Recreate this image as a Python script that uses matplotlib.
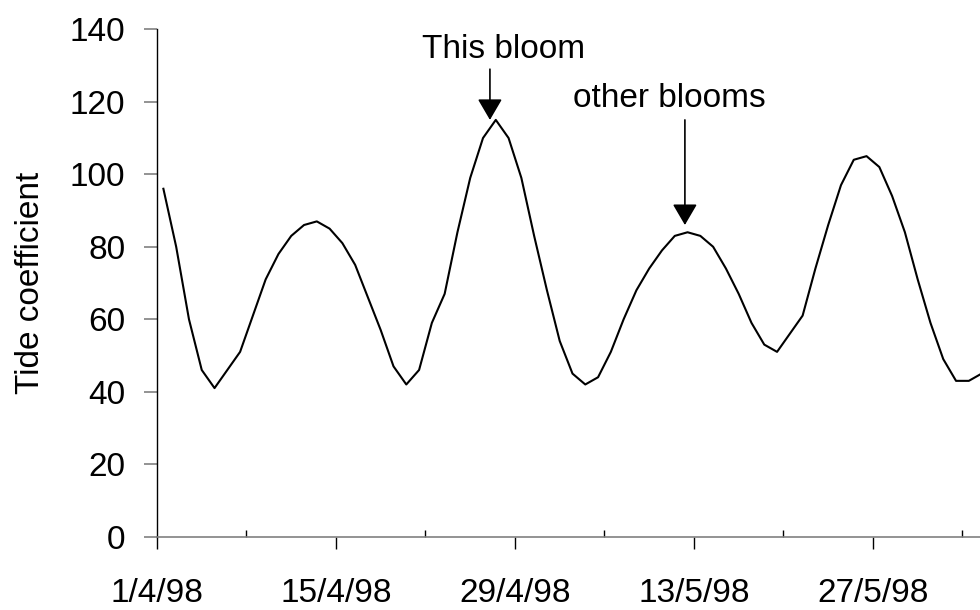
import matplotlib
matplotlib.use("Agg")
import matplotlib.pyplot as plt
import matplotlib.dates as mdates
from matplotlib.ticker import FuncFormatter
import pandas as pd

plt.rcParams['font.family'] = ['Liberation Sans', 'DejaVu Sans']

# daily tide coefficient, from 1/4/98
tide = [96, 80, 60, 46, 41, 46, 51, 61, 71, 78,
        83, 86, 87, 85, 81, 75, 66, 57, 47, 42,
        46, 59, 67, 84, 99, 110, 115, 110, 99, 83,
        68, 54, 45, 42, 44, 51, 60, 68, 74, 79,
        83, 84, 83, 80, 74, 67, 59, 53, 51, 56,
        61, 74, 86, 97, 104, 105, 102, 94, 84, 71,
        59, 49, 43, 43, 45]
start = pd.Timestamp('1998-04-01')
dates = pd.date_range(start, periods=len(tide))
y_ticks = [0, 20, 40, 60, 80, 100, 120, 140]

# label, arrow x, arrow tip, arrow tail, text y, text x
blooms = [("This bloom", pd.Timestamp('1998-04-27 01:00'), 115, 129, 132, pd.Timestamp('1998-04-28 03:00')),
          ("other blooms", pd.Timestamp('1998-05-12 07:00'), 86, 115, 118.5, pd.Timestamp('1998-05-11 01:00'))]

FS = 24

fig = plt.figure(figsize=(9.8, 6.1), dpi=100)
ax = fig.add_axes([157 / 980, 73.3 / 610, 831 / 980, 507.4 / 610])

# excel style: points sit mid-day
ax.plot(dates + pd.Timedelta(hours=12), tide, color='black', lw=1.5)

ax.set_xlim(start, start + pd.Timedelta(days=65))
ax.set_ylim(0, 140)
ax.set_yticks(y_ticks)

major = [start + pd.Timedelta(days=14 * k) for k in range(5)]
minor = [start + pd.Timedelta(days=7 + 14 * k) for k in range(5)]
ax.set_xticks(major)
ax.set_xticks(minor, minor=True)
ax.xaxis.set_major_formatter(FuncFormatter(
    lambda v, p: (lambda d: f"{d.day}/{d.month}/{d.strftime('%y')}")(mdates.num2date(v))))

ax.tick_params(axis='x', which='major', direction='out', length=8.5, width=1,
               color='black', labelsize=FS, pad=21.5)
ax.tick_params(axis='x', which='minor', direction='in', length=5, width=1, color='black')
ax.tick_params(axis='y', direction='out', length=9.4, width=1.2, color='#808080',
               labelsize=FS, pad=13.5)

for s in ['top', 'right']:
    ax.spines[s].set_visible(False)
ax.spines['left'].set_color('black')
ax.spines['left'].set_linewidth(1)
ax.spines['bottom'].set_color('#808080')
ax.spines['bottom'].set_linewidth(1.2)

ax.set_ylabel('Tide coefficient', fontsize=FS, labelpad=17)

for label, x, tip, tail, ty, tx in blooms:
    ax.annotate('', xy=(x, tip), xytext=(x, tail),
                arrowprops=dict(arrowstyle='-|>,head_length=0.65,head_width=0.38',
                                mutation_scale=20, color='black', lw=1.2,
                                shrinkA=0, shrinkB=0))
    ax.text(tx, ty, label, fontsize=FS, ha='center', va='baseline')

fig.savefig('out.png', dpi=100)
